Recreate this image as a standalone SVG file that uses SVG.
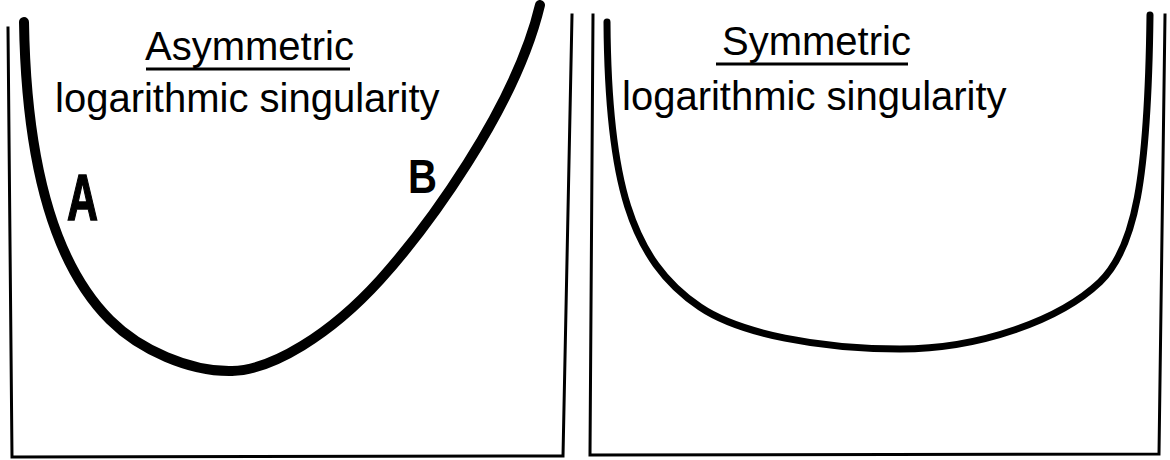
<svg xmlns="http://www.w3.org/2000/svg" width="1170" height="460" viewBox="0 0 1170 460">
<style>
.frame{fill:none;stroke:#000;stroke-width:3;stroke-linejoin:miter;stroke-linecap:square}
.curve{fill:none;stroke:#000;stroke-linecap:round;stroke-linejoin:round}
.title{font-family:"Liberation Sans",Arial,sans-serif;font-size:40px;fill:#000}
.ul{stroke:#000;stroke-width:3;fill:none}
.hand{font-family:"Liberation Sans",Arial,sans-serif;font-weight:bold;fill:#000}
</style>
<rect width="1170" height="460" fill="#fff"/>
<g id="panel-left">
  <path class="frame" d="M 8 28 L 12 457 L 563 456 L 572 15"/>
  <text class="title" x="145" y="60">Asymmetric</text>
  <line class="ul" x1="146" y1="69" x2="350" y2="69"/>
  <text class="title" x="55" y="112">logarithmic singularity</text>
  <text class="hand" x="67" y="220" font-size="64" textLength="31" lengthAdjust="spacingAndGlyphs" stroke="#000" stroke-width="1.5">A</text>
  <text class="hand" x="408" y="193" font-size="48" textLength="29" lengthAdjust="spacingAndGlyphs">B</text>
</g>
<g id="panel-right">
  <path class="frame" d="M 593 15 L 590 455 L 1159 454 L 1165 15"/>
  <text class="title" x="722" y="55">Symmetric</text>
  <line class="ul" x1="716" y1="64" x2="908" y2="64"/>
  <text class="title" x="622" y="110">logarithmic singularity</text>
</g>
<g id="connectors">
  <path id="curve-asym" class="curve" stroke-width="10" d="M 24 22 C 26 150, 50 260, 110 320 C 140 350, 190 372, 232 371 C 272 370, 330 335, 380 280 C 425 230, 515 110, 540 5"/>
  <path id="curve-sym" class="curve" stroke-width="7" d="M 607 22 C 608 180, 630 260, 700 307 C 740 334, 820 349, 900 349 C 980 349, 1060 320, 1100 282 C 1135 248, 1148 180, 1150 15"/>
</g>
</svg>
